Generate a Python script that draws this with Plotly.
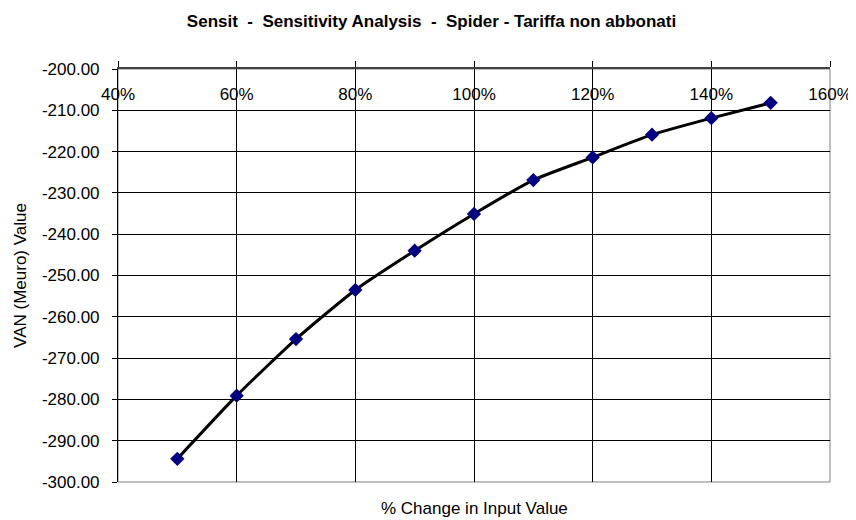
import plotly.graph_objects as go

# Data
pct_change = [0.5, 0.6, 0.7, 0.8, 0.9, 1.0, 1.1, 1.2, 1.3, 1.4, 1.5]
van_value = [-294.4, -279.1, -265.4, -253.5, -244.0, -235.1, -226.9, -221.4, -215.9, -211.9, -208.2]

x_tick_vals = [0.4, 0.6, 0.8, 1.0, 1.2, 1.4, 1.6]
x_tick_text = ["40%", "60%", "80%", "100%", "120%", "140%", "160%"]
y_tick_vals = [-300, -290, -280, -270, -260, -250, -240, -230, -220, -210, -200]
y_tick_text = ["-300.00", "-290.00", "-280.00", "-270.00", "-260.00", "-250.00",
               "-240.00", "-230.00", "-220.00", "-210.00", "-200.00"]

title_text = "Sensit  -  Sensitivity Analysis  -  Spider - Tariffa non abbonati"
x_title = "% Change in Input Value"
y_title = "VAN (Meuro) Value"

FONT = "Liberation Sans, Arial, sans-serif"
FS = 17

# the page has an 8px body margin; plot area in figure coords
L, T, W, H = 104, 61, 721, 413

fig = go.Figure()
fig.add_trace(go.Scatter(
    x=pct_change, y=van_value, mode="lines+markers",
    line=dict(color="black", width=3, shape="spline", smoothing=0.6),
    marker=dict(symbol="diamond", size=11, color="#000080",
                line=dict(color="#000080", width=0)),
    showlegend=False, hoverinfo="x+y",
))

fig.update_layout(
    width=856, height=520,
    margin=dict(l=L, r=856 - L - W, t=T, b=520 - T - H),
    paper_bgcolor="white", plot_bgcolor="white",
    font=dict(family=FONT, size=FS, color="black"),
    title=dict(text="<b>" + title_text + "</b>", x=423.5 / 856, xanchor="center",
               y=1 - 13 / 520, yanchor="middle", font=dict(size=FS, family=FONT)),
    xaxis=dict(
        range=[0.4, 1.6], side="top", tickvals=x_tick_vals, showticklabels=False,
        ticks="outside", ticklen=6, tickcolor="black",
        showgrid=True, gridcolor="black", gridwidth=1,
        showline=True, linecolor="#404040", linewidth=1.5,
        zeroline=False,
    ),
    xaxis2=dict(
        range=[0.4, 1.6], overlaying="x", side="top", anchor="free",
        position=1 - 34 / H, tickvals=x_tick_vals, ticktext=x_tick_text,
        ticks="", showgrid=False, showline=False, zeroline=False,
        tickfont=dict(size=FS, family=FONT), ticklabelstandoff=0,
    ),
    yaxis=dict(
        range=[-300, -200], tickvals=y_tick_vals, ticktext=y_tick_text,
        ticks="outside", ticklen=5, tickcolor="black",
        showgrid=True, gridcolor="black", gridwidth=1,
        showline=True, linecolor="black", linewidth=1,
        zeroline=False, tickfont=dict(size=FS, family=FONT),
        ticklabelstandoff=9,
        title=dict(text=y_title, standoff=10, font=dict(size=FS, family=FONT)),
    ),
    shapes=[dict(type="rect", xref="paper", yref="paper", x0=0, x1=1, y0=0, y1=1,
                 line=dict(color="#808080", width=1), layer="below")],
    annotations=[dict(text=x_title, xref="paper", yref="paper", x=0.5, y=-26 / H,
                      xanchor="center", yanchor="middle", showarrow=False,
                      font=dict(size=FS, family=FONT))],
)

# invisible trace to keep the label axis active
fig.add_trace(go.Scatter(x=[None], y=[None], xaxis="x2", showlegend=False, hoverinfo="skip"))

fig.write_html("out.html")
